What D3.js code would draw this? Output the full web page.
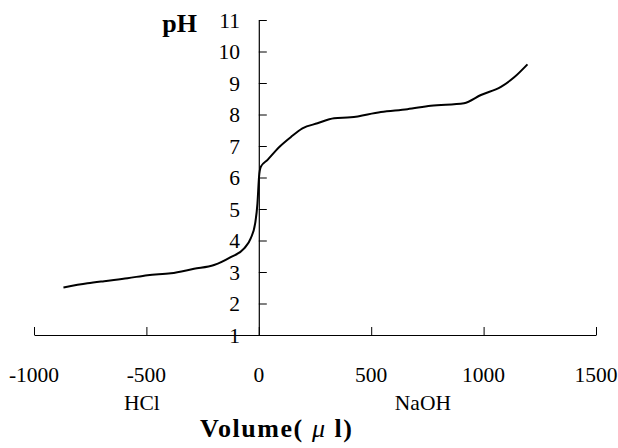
<!DOCTYPE html>
<html>
<head>
<meta charset="utf-8">
<script src="https://cdn.jsdelivr.net/npm/d3@7"></script>
<style>
  body { margin: 0; background: #fff; }
  svg text { font-family: "Liberation Serif", "Times New Roman", serif; fill: #000; }
</style>
</head>
<body>
<div id="chart"></div>
<script>
// titration curve
var volume = [-869, -762, -688, -584, -495, -391, -288, -199, -125, -65, -36, -16, -6, 0,
              1, 9, 39, 90, 142, 194, 261, 335, 409, 543, 661, 765, 913, 988, 1077, 1136, 1195];
var ph = [2.51, 2.64, 2.71, 2.80, 2.90, 2.96, 3.10, 3.22, 3.47, 3.75, 4.07, 4.55, 5.18, 5.92,
          6.02, 6.34, 6.56, 6.96, 7.28, 7.56, 7.72, 7.88, 7.91, 8.08, 8.17, 8.28, 8.36, 8.62, 8.88, 9.18, 9.59];
var x_ticks = [-1000, -500, 0, 500, 1000, 1500];
var y_ticks = [1, 2, 3, 4, 5, 6, 7, 8, 9, 10, 11];
// reagent names under the axis, placed at a volume
var sub_labels = [{v: -520, text: 'HCl'}, {v: 730, text: 'NaOH'}];

var width = 618, height = 448;

var x = d3.scaleLinear().domain([-1000, 1500]).range([34, 596]);
var y = d3.scaleLinear().domain([1, 11]).range([335, 20]);

var svg = d3.select('#chart').append('svg')
    .attr('width', width)
    .attr('height', height);

// x axis along pH = 1, ticks pointing up
var xAxis = svg.append('g')
    .attr('transform', 'translate(0,' + y(1) + ')')
    .call(d3.axisTop(x).tickValues(x_ticks).tickSize(8).tickSizeOuter(0).tickFormat(''));
xAxis.select('.domain').attr('stroke-width', 1.2);

svg.selectAll('text.xlab')
    .data(x_ticks)
    .enter()
    .append('text')
    .attr('class', 'xlab')
    .attr('x', function(d) { return x(d); })
    .attr('y', 382)
    .attr('text-anchor', 'middle')
    .style('font-size', '21.5px')
    .text(function(d) { return d; });

svg.selectAll('text.sub')
    .data(sub_labels)
    .enter()
    .append('text')
    .attr('class', 'sub')
    .attr('x', function(d) { return x(d.v); })
    .attr('y', 410)
    .attr('text-anchor', 'middle')
    .style('font-size', '21.5px')
    .text(function(d) { return d.text; });

// y axis at volume = 0, ticks pointing right, labels on the left
var yAxis = svg.append('g')
    .attr('transform', 'translate(' + x(0) + ',0)')
    .call(d3.axisRight(y).tickValues(y_ticks).tickSize(8).tickSizeOuter(0).tickFormat(''));
yAxis.select('.domain').attr('stroke-width', 1.2);

svg.selectAll('text.ylab')
    .data(y_ticks)
    .enter()
    .append('text')
    .attr('class', 'ylab')
    .attr('x', 240)
    .attr('y', function(d) { return y(d); })
    .attr('dy', '0.35em')
    .attr('text-anchor', 'end')
    .style('font-size', '21.5px')
    .text(function(d) { return d; });

svg.append('text')
    .attr('x', 197)
    .attr('y', 32)
    .attr('text-anchor', 'end')
    .style('font-size', '26px')
    .style('font-weight', 'bold')
    .text('pH');

var xTitle = svg.append('text')
    .attr('x', 200)
    .attr('y', 437)
    .attr('textLength', 152)
    .attr('lengthAdjust', 'spacing')
    .style('font-size', '26px')
    .style('font-weight', 'bold');
xTitle.append('tspan').text('Volume( ');
xTitle.append('tspan').style('font-style', 'italic').style('font-weight', 'normal').text('\u03bc');
xTitle.append('tspan').text(' l)');

var line = d3.line()
    .x(function(d, i) { return x(volume[i]); })
    .y(function(d, i) { return y(ph[i]); })
    .curve(d3.curveMonotoneX);

svg.append('path')
    .datum(volume)
    .attr('d', line)
    .attr('fill', 'none')
    .attr('stroke', '#000')
    .attr('stroke-width', 2);
</script>
</body>
</html>
